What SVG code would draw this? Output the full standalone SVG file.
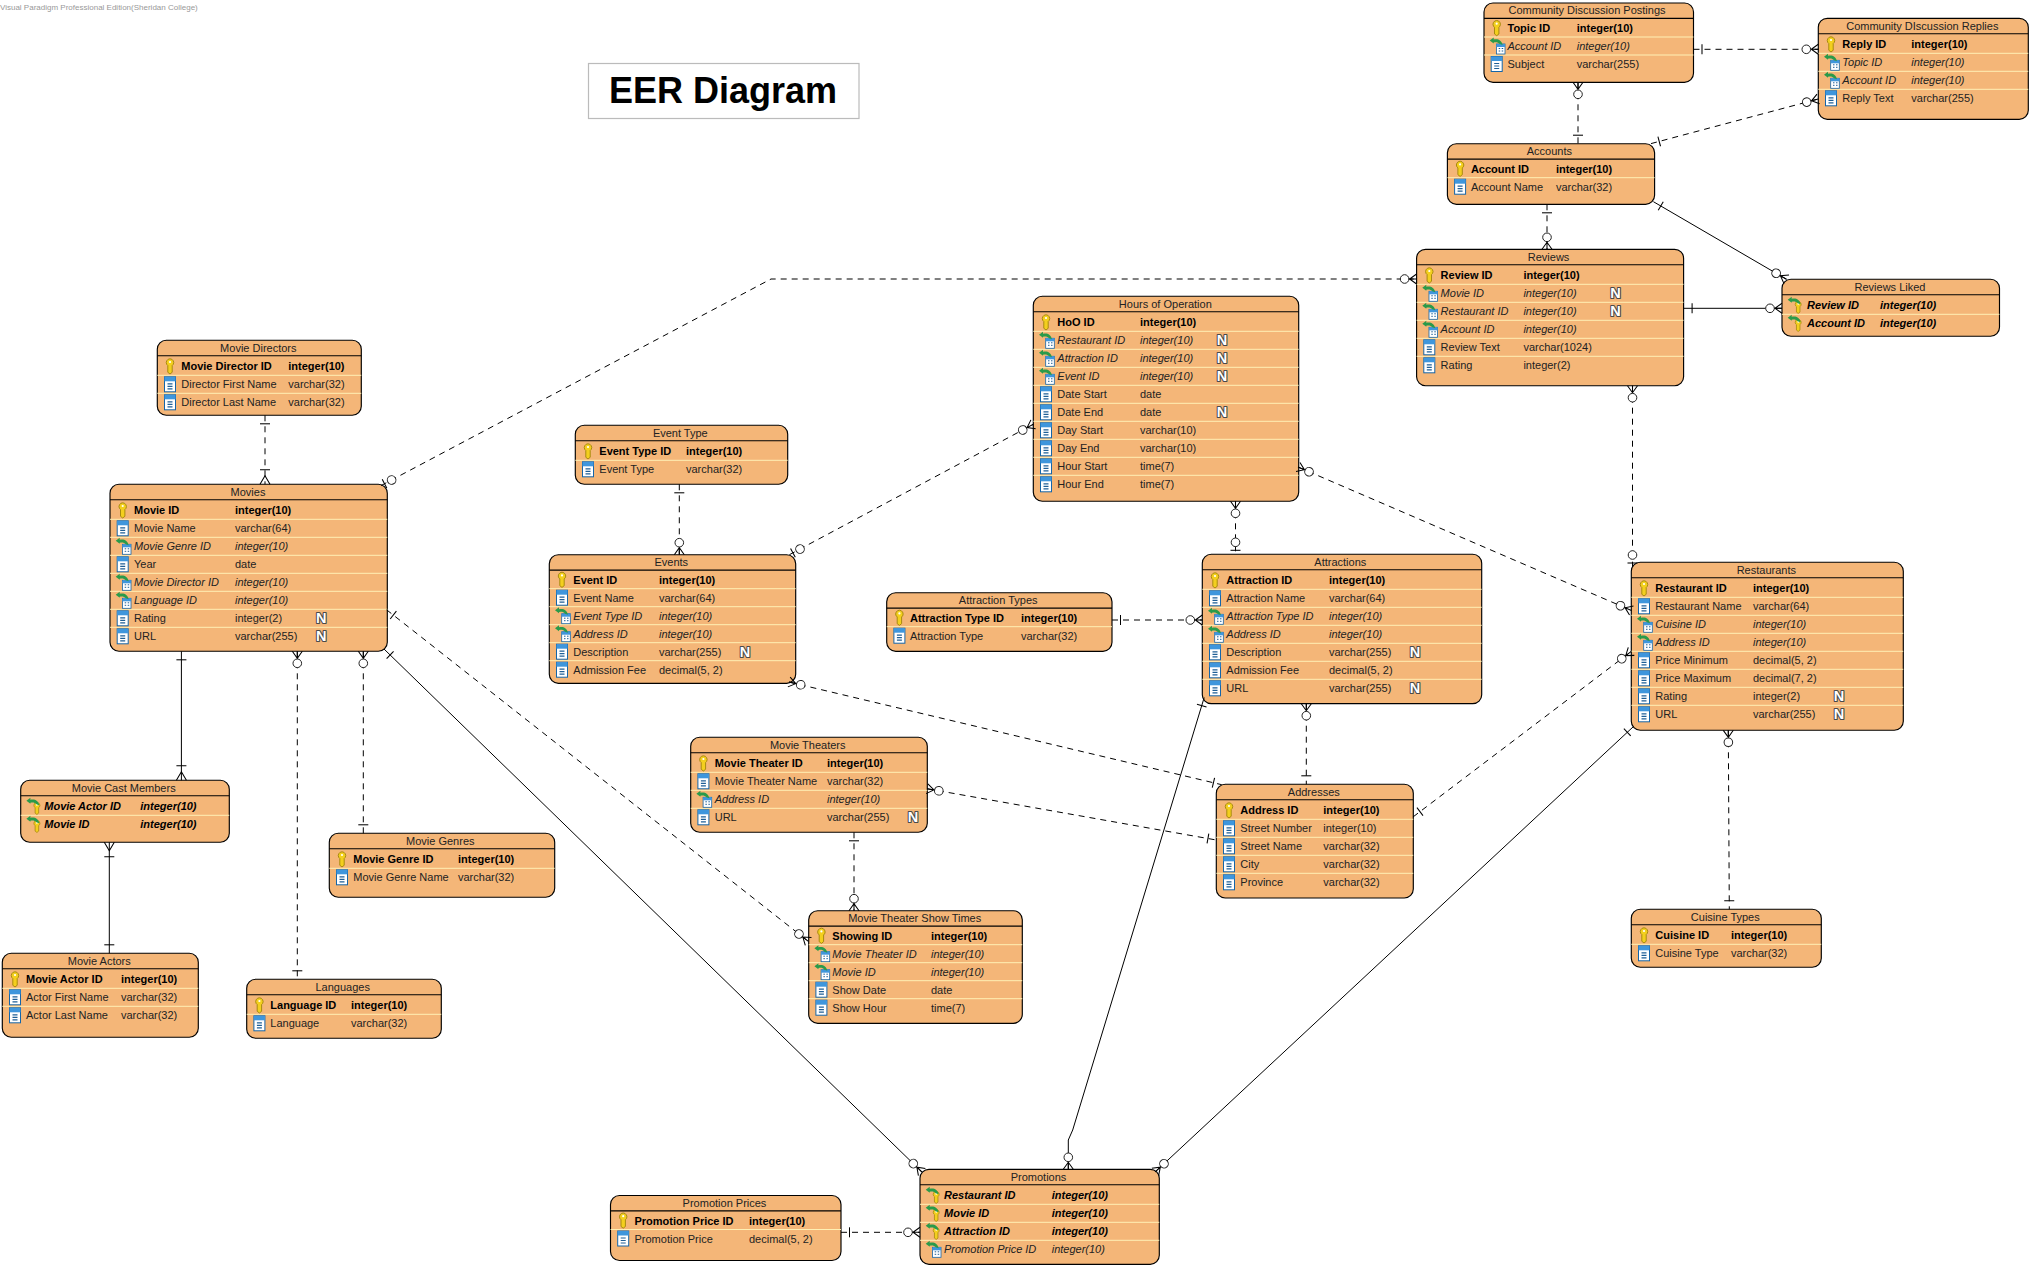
<svg xmlns="http://www.w3.org/2000/svg" width="2031" height="1268" viewBox="0 0 2031 1268">
<style>
text{font-family:"Liberation Sans",Arial,sans-serif;font-size:11px;fill:#222}
.box{fill:#f4b678;stroke:#000;stroke-width:1.15}
.hl{stroke:#000;stroke-width:1.1;fill:none}
.sep{stroke:#fff0b4;stroke-width:1;fill:none}
.ttl{text-anchor:middle}
.b{font-weight:bold;fill:#000}
.i{font-style:italic}
.bi{font-weight:bold;font-style:italic;fill:#000}
.n{font-weight:bold;font-size:14.5px;text-anchor:middle;fill:#fff;stroke:#4a4a4a;stroke-width:2.2;paint-order:stroke;stroke-linejoin:round}
.ln{fill:none;stroke:#000;stroke-width:1}
.d{stroke-dasharray:6 5}
.mk path{fill:none;stroke:#000;stroke-width:1.05}
.mk circle{fill:#fff;stroke:#222;stroke-width:1}
</style>
<defs>
<g id="col"><rect x="-5.5" y="-7.5" width="11" height="15" fill="#fff" stroke="#1565a8"/><rect x="-5.5" y="-7.5" width="11" height="4.5" fill="#3f96dc"/><path d="M-2.5 -.5H2.5M-2.5 2H2.5M-2.5 4.5H2.5" stroke="#1f5f96" stroke-width="1.2"/></g>
<g id="key"><path d="M0-7.5A3.8 3.8 0 0 1 3.2-1.8L2.2-.8V6L0 7.7-2.2 6V-.8L-3.2-1.8A3.8 3.8 0 0 1 0-7.5z" fill="#f3cf1e" stroke="#a88a10"/><circle cy="-4.3" r="1.1" fill="#fff"/></g>
<path id="arr" d="M-7-5.5-3-8.5V-6.5C1-7.5 5-6 6-1L3-2C1.5-4-1-4.2-3-3.5V-2.5z" fill="#2a9a4a"/>
<g id="fk"><g transform="translate(4,3)"><rect x="-4.3" y="-5" width="8.6" height="10" fill="#fff" stroke="#1565a8" stroke-width=".8"/><rect x="-4.3" y="-5" width="8.6" height="3" fill="#3f96dc"/><path d="M-2-.5H-.5M1-.5H2.5M-2 2H-.5M1 2H2.5" stroke="#1f5f96"/></g><use href="#arr"/></g>
<g id="pf"><g transform="translate(3.5,2) scale(.8)"><use href="#key"/></g><use href="#arr"/></g>
<marker id="m-one" class="mk" markerUnits="userSpaceOnUse" orient="auto-start-reverse" markerWidth="30" markerHeight="30" refX="0" refY="0" overflow="visible"><path d="M-8.5-5V5"/></marker>
<marker id="m-zm" class="mk" markerUnits="userSpaceOnUse" orient="auto-start-reverse" markerWidth="30" markerHeight="30" refX="0" refY="0" overflow="visible"><circle cx="-12" r="4.3"/><path d="M0-5-7 0 0 5M-7 0H0"/></marker>
<marker id="m-om" class="mk" markerUnits="userSpaceOnUse" orient="auto-start-reverse" markerWidth="30" markerHeight="30" refX="0" refY="0" overflow="visible"><path d="M0-5-8.5 0 0 5M-14.5-5V5"/></marker>
<marker id="m-z1" class="mk" markerUnits="userSpaceOnUse" orient="auto-start-reverse" markerWidth="30" markerHeight="30" refX="0" refY="0" overflow="visible"><path d="M-4-5V5"/><circle cx="-12" r="4.3"/></marker>
</defs>
<rect width="2031" height="1268" fill="#fff"/>
<text x="0" y="9.5" style="font-size:8px;fill:#999">Visual Paradigm Professional Edition(Sheridan College)</text>
<g id="title"><rect x="588.5" y="63.5" width="270.5" height="55" fill="#fff" stroke="#bbb" stroke-width="1.2"/><text x="723" y="103" style="font-size:36px;font-weight:bold;text-anchor:middle;fill:#000">EER Diagram</text></g>

<g id="postings" transform="translate(1484,3)"><rect class="box" width="209.5" height="79.3" rx="9"/><path class="hl" d="M0 15.4H209.5"/><text class="ttl" x="103" y="10.5">Community Discussion Postings</text><g transform="translate(0,-1)"><path class="sep" d="M0 35H209.5M0 53H209.5"/>
<use href="#key" x="12.7" y="26"/><text class="b" x="23.5" y="30">Topic ID</text><text class="b" x="92.7" y="30">integer(10)</text>
<use href="#fk" x="12.7" y="44"/><text class="i" x="23.5" y="48">Account ID</text><text class="i" x="92.7" y="48">integer(10)</text>
<use href="#col" x="12.7" y="62"/><text x="23.5" y="66">Subject</text><text x="92.7" y="66">varchar(255)</text></g></g>

<g id="replies" transform="translate(1818.3,18.3)"><rect class="box" width="210" height="101" rx="9"/><path class="hl" d="M0 15.4H210"/><path class="sep" d="M0 35H210M0 53H210M0 71H210"/><text class="ttl" x="104" y="11.5">Community DIscussion Replies</text>
<use href="#key" x="12.7" y="26"/><text class="b" x="24" y="30">Reply ID</text><text class="b" x="93" y="30">integer(10)</text>
<use href="#fk" x="12.7" y="44"/><text class="i" x="24" y="48">Topic ID</text><text class="i" x="93" y="48">integer(10)</text>
<use href="#fk" x="12.7" y="62"/><text class="i" x="24" y="66">Account ID</text><text class="i" x="93" y="66">integer(10)</text>
<use href="#col" x="12.7" y="80"/><text x="24" y="84">Reply Text</text><text x="93" y="84">varchar(255)</text></g>

<g id="accounts" transform="translate(1447.4,143.7)"><rect class="box" width="207.2" height="60.6" rx="9"/><path class="hl" d="M0 15.4H207.2"/><text class="ttl" x="102" y="11.5">Accounts</text><g transform="translate(0,-1)"><path class="sep" d="M0 35H207.2"/>
<use href="#key" x="12.7" y="26"/><text class="b" x="23.5" y="30">Account ID</text><text class="b" x="108.5" y="30">integer(10)</text>
<use href="#col" x="12.7" y="44"/><text x="23.5" y="48">Account Name</text><text x="108.5" y="48">varchar(32)</text></g></g>

<g id="reviews" transform="translate(1416.6,249.3)"><rect class="box" width="267" height="136.4" rx="9"/><path class="hl" d="M0 15.4H267"/><path class="sep" d="M0 35H267M0 53H267M0 71H267M0 89H267M0 107H267"/><text class="ttl" x="132" y="11.5">Reviews</text>
<use href="#key" x="12.7" y="26"/><text class="b" x="24" y="30">Review ID</text><text class="b" x="106.8" y="30">integer(10)</text>
<use href="#fk" x="12.7" y="44"/><text class="i" x="24" y="48">Movie ID</text><text class="i" x="106.8" y="48">integer(10)</text><text class="n" x="199" y="49">N</text>
<use href="#fk" x="12.7" y="62"/><text class="i" x="24" y="66">Restaurant ID</text><text class="i" x="106.8" y="66">integer(10)</text><text class="n" x="199" y="67">N</text>
<use href="#fk" x="12.7" y="80"/><text class="i" x="24" y="84">Account ID</text><text class="i" x="106.8" y="84">integer(10)</text>
<use href="#col" x="12.7" y="98"/><text x="24" y="102">Review Text</text><text x="106.8" y="102">varchar(1024)</text>
<use href="#col" x="12.7" y="116"/><text x="24" y="120">Rating</text><text x="106.8" y="120">integer(2)</text></g>

<g id="reviews-liked" transform="translate(1782,279.3)"><rect class="box" width="217.5" height="57" rx="9"/><path class="hl" d="M0 15.4H217.5"/><path class="sep" d="M0 35H217.5"/><text class="ttl" x="108" y="11.5">Reviews Liked</text>
<use href="#pf" x="12.7" y="26"/><text class="bi" x="25" y="30">Review ID</text><text class="bi" x="98" y="30">integer(10)</text>
<use href="#pf" x="12.7" y="44"/><text class="bi" x="25" y="48">Account ID</text><text class="bi" x="98" y="48">integer(10)</text></g>

<g id="hours" transform="translate(1033.3,296.3)"><rect class="box" width="265.4" height="205" rx="9"/><path class="hl" d="M0 15.4H265.4"/><path class="sep" d="M0 35H265.4M0 53H265.4M0 71H265.4M0 89H265.4M0 107H265.4M0 125H265.4M0 143H265.4M0 161H265.4M0 179H265.4"/><text class="ttl" x="132" y="11.5">Hours of Operation</text>
<use href="#key" x="12.7" y="26"/><text class="b" x="24" y="30">HoO ID</text><text class="b" x="106.7" y="30">integer(10)</text>
<use href="#fk" x="12.7" y="44"/><text class="i" x="24" y="48">Restaurant ID</text><text class="i" x="106.7" y="48">integer(10)</text><text class="n" x="188.7" y="49">N</text>
<use href="#fk" x="12.7" y="62"/><text class="i" x="24" y="66">Attraction ID</text><text class="i" x="106.7" y="66">integer(10)</text><text class="n" x="188.7" y="67">N</text>
<use href="#fk" x="12.7" y="80"/><text class="i" x="24" y="84">Event ID</text><text class="i" x="106.7" y="84">integer(10)</text><text class="n" x="188.7" y="85">N</text>
<use href="#col" x="12.7" y="98"/><text x="24" y="102">Date Start</text><text x="106.7" y="102">date</text>
<use href="#col" x="12.7" y="116"/><text x="24" y="120">Date End</text><text x="106.7" y="120">date</text><text class="n" x="188.7" y="121">N</text>
<use href="#col" x="12.7" y="134"/><text x="24" y="138">Day Start</text><text x="106.7" y="138">varchar(10)</text>
<use href="#col" x="12.7" y="152"/><text x="24" y="156">Day End</text><text x="106.7" y="156">varchar(10)</text>
<use href="#col" x="12.7" y="170"/><text x="24" y="174">Hour Start</text><text x="106.7" y="174">time(7)</text>
<use href="#col" x="12.7" y="188"/><text x="24" y="192">Hour End</text><text x="106.7" y="192">time(7)</text></g>

<g id="attractions" transform="translate(1202.3,554.3)"><rect class="box" width="279.4" height="149.4" rx="9"/><path class="hl" d="M0 15.4H279.4"/><path class="sep" d="M0 35H279.4M0 53H279.4M0 71H279.4M0 89H279.4M0 107H279.4M0 125H279.4"/><text class="ttl" x="138" y="11.5">Attractions</text>
<use href="#key" x="12.7" y="26"/><text class="b" x="24" y="30">Attraction ID</text><text class="b" x="126.7" y="30">integer(10)</text>
<use href="#col" x="12.7" y="44"/><text x="24" y="48">Attraction Name</text><text x="126.7" y="48">varchar(64)</text>
<use href="#fk" x="12.7" y="62"/><text class="i" x="24" y="66">Attraction Type ID</text><text class="i" x="126.7" y="66">integer(10)</text>
<use href="#fk" x="12.7" y="80"/><text class="i" x="24" y="84">Address ID</text><text class="i" x="126.7" y="84">integer(10)</text>
<use href="#col" x="12.7" y="98"/><text x="24" y="102">Description</text><text x="126.7" y="102">varchar(255)</text><text class="n" x="212.7" y="103">N</text>
<use href="#col" x="12.7" y="116"/><text x="24" y="120">Admission Fee</text><text x="126.7" y="120">decimal(5, 2)</text>
<use href="#col" x="12.7" y="134"/><text x="24" y="138">URL</text><text x="126.7" y="138">varchar(255)</text><text class="n" x="212.7" y="139">N</text></g>

<g id="addresses" transform="translate(1216.3,784.3)"><rect class="box" width="197" height="113.7" rx="9"/><path class="hl" d="M0 15.4H197"/><path class="sep" d="M0 35H197M0 53H197M0 71H197M0 89H197"/><text class="ttl" x="97.5" y="11.5">Addresses</text>
<use href="#key" x="12.7" y="26"/><text class="b" x="24" y="30">Address ID</text><text class="b" x="107" y="30">integer(10)</text>
<use href="#col" x="12.7" y="44"/><text x="24" y="48">Street Number</text><text x="107" y="48">integer(10)</text>
<use href="#col" x="12.7" y="62"/><text x="24" y="66">Street Name</text><text x="107" y="66">varchar(32)</text>
<use href="#col" x="12.7" y="80"/><text x="24" y="84">City</text><text x="107" y="84">varchar(32)</text>
<use href="#col" x="12.7" y="98"/><text x="24" y="102">Province</text><text x="107" y="102">varchar(32)</text></g>

<g id="restaurants" transform="translate(1631.3,562.3)"><rect class="box" width="272" height="168" rx="9"/><path class="hl" d="M0 15.4H272"/><path class="sep" d="M0 35H272M0 53H272M0 71H272M0 89H272M0 107H272M0 125H272M0 143H272"/><text class="ttl" x="135" y="11.5">Restaurants</text>
<use href="#key" x="12.7" y="26"/><text class="b" x="24" y="30">Restaurant ID</text><text class="b" x="121.7" y="30">integer(10)</text>
<use href="#col" x="12.7" y="44"/><text x="24" y="48">Restaurant Name</text><text x="121.7" y="48">varchar(64)</text>
<use href="#fk" x="12.7" y="62"/><text class="i" x="24" y="66">Cuisine ID</text><text class="i" x="121.7" y="66">integer(10)</text>
<use href="#fk" x="12.7" y="80"/><text class="i" x="24" y="84">Address ID</text><text class="i" x="121.7" y="84">integer(10)</text>
<use href="#col" x="12.7" y="98"/><text x="24" y="102">Price Minimum</text><text x="121.7" y="102">decimal(5, 2)</text>
<use href="#col" x="12.7" y="116"/><text x="24" y="120">Price Maximum</text><text x="121.7" y="120">decimal(7, 2)</text>
<use href="#col" x="12.7" y="134"/><text x="24" y="138">Rating</text><text x="121.7" y="138">integer(2)</text><text class="n" x="207.7" y="139">N</text>
<use href="#col" x="12.7" y="152"/><text x="24" y="156">URL</text><text x="121.7" y="156">varchar(255)</text><text class="n" x="207.7" y="157">N</text></g>

<g id="cuisine-types" transform="translate(1631.3,909.3)"><rect class="box" width="190" height="58" rx="9"/><path class="hl" d="M0 15.4H190"/><path class="sep" d="M0 35H190"/><text class="ttl" x="94" y="11.5">Cuisine Types</text>
<use href="#key" x="12.7" y="26"/><text class="b" x="24" y="30">Cuisine ID</text><text class="b" x="99.7" y="30">integer(10)</text>
<use href="#col" x="12.7" y="44"/><text x="24" y="48">Cuisine Type</text><text x="99.7" y="48">varchar(32)</text></g>

<g id="promotions" transform="translate(920,1169.3)"><rect class="box" width="239.3" height="95" rx="9"/><path class="hl" d="M0 15.4H239.3"/><path class="sep" d="M0 35H239.3M0 53H239.3M0 71H239.3"/><text class="ttl" x="118.5" y="11.5">Promotions</text>
<use href="#pf" x="12.7" y="26"/><text class="bi" x="24" y="30">Restaurant ID</text><text class="bi" x="131.7" y="30">integer(10)</text>
<use href="#pf" x="12.7" y="44"/><text class="bi" x="24" y="48">Movie ID</text><text class="bi" x="131.7" y="48">integer(10)</text>
<use href="#pf" x="12.7" y="62"/><text class="bi" x="24" y="66">Attraction ID</text><text class="bi" x="131.7" y="66">integer(10)</text>
<use href="#fk" x="12.7" y="80"/><text class="i" x="24" y="84">Promotion Price ID</text><text class="i" x="131.7" y="84">integer(10)</text></g>

<g id="promotion-prices" transform="translate(610.5,1195.5)"><rect class="box" width="230.5" height="65" rx="9"/><path class="hl" d="M0 15.4H230.5"/><text class="ttl" x="114" y="11.5">Promotion Prices</text><g transform="translate(0,-1)"><path class="sep" d="M0 35H230.5"/>
<use href="#key" x="12.7" y="26"/><text class="b" x="24" y="30">Promotion Price ID</text><text class="b" x="138.5" y="30">integer(10)</text>
<use href="#col" x="12.7" y="44"/><text x="24" y="48">Promotion Price</text><text x="138.5" y="48">decimal(5, 2)</text></g></g>

<g id="movie-directors" transform="translate(157.3,340.3)"><rect class="box" width="204" height="75" rx="9"/><path class="hl" d="M0 15.4H204"/><path class="sep" d="M0 35H204M0 53H204"/><text class="ttl" x="101" y="11.5">Movie Directors</text>
<use href="#key" x="12.7" y="26"/><text class="b" x="24" y="30">Movie Director ID</text><text class="b" x="131" y="30">integer(10)</text>
<use href="#col" x="12.7" y="44"/><text x="24" y="48">Director First Name</text><text x="131" y="48">varchar(32)</text>
<use href="#col" x="12.7" y="62"/><text x="24" y="66">Director Last Name</text><text x="131" y="66">varchar(32)</text></g>

<g id="movies" transform="translate(110,484.3)"><rect class="box" width="277.3" height="167" rx="9"/><path class="hl" d="M0 15.4H277.3"/><path class="sep" d="M0 35H277.3M0 53H277.3M0 71H277.3M0 89H277.3M0 107H277.3M0 125H277.3M0 143H277.3"/><text class="ttl" x="138" y="11.5">Movies</text>
<use href="#key" x="12.7" y="26"/><text class="b" x="24" y="30">Movie ID</text><text class="b" x="125" y="30">integer(10)</text>
<use href="#col" x="12.7" y="44"/><text x="24" y="48">Movie Name</text><text x="125" y="48">varchar(64)</text>
<use href="#fk" x="12.7" y="62"/><text class="i" x="24" y="66">Movie Genre ID</text><text class="i" x="125" y="66">integer(10)</text>
<use href="#col" x="12.7" y="80"/><text x="24" y="84">Year</text><text x="125" y="84">date</text>
<use href="#fk" x="12.7" y="98"/><text class="i" x="24" y="102">Movie Director ID</text><text class="i" x="125" y="102">integer(10)</text>
<use href="#fk" x="12.7" y="116"/><text class="i" x="24" y="120">Language ID</text><text class="i" x="125" y="120">integer(10)</text>
<use href="#col" x="12.7" y="134"/><text x="24" y="138">Rating</text><text x="125" y="138">integer(2)</text><text class="n" x="211.3" y="139">N</text>
<use href="#col" x="12.7" y="152"/><text x="24" y="156">URL</text><text x="125" y="156">varchar(255)</text><text class="n" x="211.3" y="157">N</text></g>

<g id="movie-cast-members" transform="translate(20.7,780.3)"><rect class="box" width="208.6" height="62" rx="9"/><path class="hl" d="M0 15.4H208.6"/><path class="sep" d="M0 35H208.6"/><text class="ttl" x="103" y="11.5">Movie Cast Members</text>
<use href="#pf" x="12.7" y="26"/><text class="bi" x="23.6" y="30">Movie Actor ID</text><text class="bi" x="119.6" y="30">integer(10)</text>
<use href="#pf" x="12.7" y="44"/><text class="bi" x="23.6" y="48">Movie ID</text><text class="bi" x="119.6" y="48">integer(10)</text></g>

<g id="movie-actors" transform="translate(2.3,953.3)"><rect class="box" width="196" height="84" rx="9"/><path class="hl" d="M0 15.4H196"/><path class="sep" d="M0 35H196M0 53H196"/><text class="ttl" x="97" y="11.5">Movie Actors</text>
<use href="#key" x="12.7" y="26"/><text class="b" x="23.7" y="30">Movie Actor ID</text><text class="b" x="118.7" y="30">integer(10)</text>
<use href="#col" x="12.7" y="44"/><text x="23.7" y="48">Actor First Name</text><text x="118.7" y="48">varchar(32)</text>
<use href="#col" x="12.7" y="62"/><text x="23.7" y="66">Actor Last Name</text><text x="118.7" y="66">varchar(32)</text></g>

<g id="languages" transform="translate(246.7,979.3)"><rect class="box" width="194.6" height="59" rx="9"/><path class="hl" d="M0 15.4H194.6"/><path class="sep" d="M0 35H194.6"/><text class="ttl" x="96" y="11.5">Languages</text>
<use href="#key" x="12.7" y="26"/><text class="b" x="23.6" y="30">Language ID</text><text class="b" x="104.3" y="30">integer(10)</text>
<use href="#col" x="12.7" y="44"/><text x="23.6" y="48">Language</text><text x="104.3" y="48">varchar(32)</text></g>

<g id="movie-genres" transform="translate(329.3,833.3)"><rect class="box" width="225.4" height="64" rx="9"/><path class="hl" d="M0 15.4H225.4"/><path class="sep" d="M0 35H225.4"/><text class="ttl" x="111" y="11.5">Movie Genres</text>
<use href="#key" x="12.7" y="26"/><text class="b" x="24" y="30">Movie Genre ID</text><text class="b" x="128.7" y="30">integer(10)</text>
<use href="#col" x="12.7" y="44"/><text x="24" y="48">Movie Genre Name</text><text x="128.7" y="48">varchar(32)</text></g>

<g id="event-type" transform="translate(575.3,425.3)"><rect class="box" width="212.4" height="59" rx="9"/><path class="hl" d="M0 15.4H212.4"/><path class="sep" d="M0 35H212.4"/><text class="ttl" x="105" y="11.5">Event Type</text>
<use href="#key" x="12.7" y="26"/><text class="b" x="24" y="30">Event Type ID</text><text class="b" x="110.7" y="30">integer(10)</text>
<use href="#col" x="12.7" y="44"/><text x="24" y="48">Event Type</text><text x="110.7" y="48">varchar(32)</text></g>

<g id="events" transform="translate(549.3,554.7)"><rect class="box" width="246.4" height="128.6" rx="9"/><path class="hl" d="M0 15.4H246.4"/><text class="ttl" x="122" y="11.5">Events</text><g transform="translate(0,-1)"><path class="sep" d="M0 35H246.4M0 53H246.4M0 71H246.4M0 89H246.4M0 107H246.4"/>
<use href="#key" x="12.7" y="26"/><text class="b" x="24" y="30">Event ID</text><text class="b" x="109.7" y="30">integer(10)</text>
<use href="#col" x="12.7" y="44"/><text x="24" y="48">Event Name</text><text x="109.7" y="48">varchar(64)</text>
<use href="#fk" x="12.7" y="62"/><text class="i" x="24" y="66">Event Type ID</text><text class="i" x="109.7" y="66">integer(10)</text>
<use href="#fk" x="12.7" y="80"/><text class="i" x="24" y="84">Address ID</text><text class="i" x="109.7" y="84">integer(10)</text>
<use href="#col" x="12.7" y="98"/><text x="24" y="102">Description</text><text x="109.7" y="102">varchar(255)</text><text class="n" x="195.7" y="103">N</text>
<use href="#col" x="12.7" y="116"/><text x="24" y="120">Admission Fee</text><text x="109.7" y="120">decimal(5, 2)</text></g></g>

<g id="attraction-types" transform="translate(886.7,592.7)"><rect class="box" width="225.3" height="58.6" rx="9"/><path class="hl" d="M0 15.4H225.3"/><text class="ttl" x="111.5" y="11.5">Attraction Types</text><g transform="translate(0,-1)"><path class="sep" d="M0 35H225.3"/>
<use href="#key" x="12.7" y="26"/><text class="b" x="23.3" y="30">Attraction Type ID</text><text class="b" x="134.3" y="30">integer(10)</text>
<use href="#col" x="12.7" y="44"/><text x="23.3" y="48">Attraction Type</text><text x="134.3" y="48">varchar(32)</text></g></g>

<g id="movie-theaters" transform="translate(690.7,737.3)"><rect class="box" width="236.6" height="95" rx="9"/><path class="hl" d="M0 15.4H236.6"/><path class="sep" d="M0 35H236.6M0 53H236.6M0 71H236.6"/><text class="ttl" x="117" y="11.5">Movie Theaters</text>
<use href="#key" x="12.7" y="26"/><text class="b" x="24" y="30">Movie Theater ID</text><text class="b" x="136.3" y="30">integer(10)</text>
<use href="#col" x="12.7" y="44"/><text x="24" y="48">Movie Theater Name</text><text x="136.3" y="48">varchar(32)</text>
<use href="#fk" x="12.7" y="62"/><text class="i" x="24" y="66">Address ID</text><text class="i" x="136.3" y="66">integer(10)</text>
<use href="#col" x="12.7" y="80"/><text x="24" y="84">URL</text><text x="136.3" y="84">varchar(255)</text><text class="n" x="222.3" y="85">N</text></g>

<g id="movie-theater-show-times" transform="translate(808.7,910.7)"><rect class="box" width="213.6" height="112.6" rx="9"/><path class="hl" d="M0 15.4H213.6"/><text class="ttl" x="106" y="11.5">Movie Theater Show Times</text><g transform="translate(0,-1)"><path class="sep" d="M0 35H213.6M0 53H213.6M0 71H213.6M0 89H213.6"/>
<use href="#key" x="12.7" y="26"/><text class="b" x="23.6" y="30">Showing ID</text><text class="b" x="122.3" y="30">integer(10)</text>
<use href="#fk" x="12.7" y="44"/><text class="i" x="23.6" y="48">Movie Theater ID</text><text class="i" x="122.3" y="48">integer(10)</text>
<use href="#fk" x="12.7" y="62"/><text class="i" x="23.6" y="66">Movie ID</text><text class="i" x="122.3" y="66">integer(10)</text>
<use href="#col" x="12.7" y="80"/><text x="23.6" y="84">Show Date</text><text x="122.3" y="84">date</text>
<use href="#col" x="12.7" y="98"/><text x="23.6" y="102">Show Hour</text><text x="122.3" y="102">time(7)</text></g></g>

<g id="connectors">
<path class="ln d" marker-start="url(#m-zm)" marker-end="url(#m-one)" d="M1578 82.3V143.7"/>
<path class="ln d" marker-start="url(#m-one)" marker-end="url(#m-zm)" d="M1693.5 49.3H1818.3"/>
<path class="ln d" marker-start="url(#m-one)" marker-end="url(#m-zm)" d="M1651 143.6L1818.3 99"/>
<path class="ln d" marker-start="url(#m-one)" marker-end="url(#m-zm)" d="M1547 204.3V249.3"/>
<path class="ln" marker-start="url(#m-one)" marker-end="url(#m-zm)" d="M1653.4 201.7L1786.5 279.3"/>
<path class="ln" marker-start="url(#m-one)" marker-end="url(#m-zm)" d="M1683.6 308.3H1782"/>
<path class="ln d" marker-start="url(#m-zm)" marker-end="url(#m-z1)" d="M1632.5 385.7V567"/>
<path class="ln d" marker-start="url(#m-zm)" marker-end="url(#m-zm)" d="M1298 467L1631.5 610.5"/>
<path class="ln d" marker-start="url(#m-zm)" marker-end="url(#m-z1)" d="M1235.5 501.3V554.3"/>
<path class="ln d" marker-start="url(#m-z1)" marker-end="url(#m-zm)" d="M381 485.6L771 279H1416.6"/>
<path class="ln d" marker-start="url(#m-one)" marker-end="url(#m-zm)" d="M679.3 484.3V554.7"/>
<path class="ln d" marker-start="url(#m-z1)" marker-end="url(#m-zm)" d="M789.4 554.7L1033.3 424.3"/>
<path class="ln d" marker-start="url(#m-zm)" marker-end="url(#m-one)" d="M789 682L1221.7 784.7"/>
<path class="ln d" marker-start="url(#m-one)" marker-end="url(#m-zm)" d="M1112 620H1202.3"/>
<path class="ln d" marker-start="url(#m-zm)" marker-end="url(#m-one)" d="M1306.3 703.7V784.3"/>
<path class="ln d" marker-start="url(#m-one)" marker-end="url(#m-zm)" d="M1413.2 816.8L1631.3 651.4"/>
<path class="ln d" marker-start="url(#m-zm)" marker-end="url(#m-one)" d="M927 788.7L1216.3 840"/>
<path class="ln d" marker-start="url(#m-one)" marker-end="url(#m-zm)" d="M854 832.3V910.7"/>
<path class="ln d" marker-start="url(#m-one)" marker-end="url(#m-zm)" d="M386.6 609.8L808.4 941.4"/>
<path class="ln" marker-start="url(#m-one)" marker-end="url(#m-zm)" d="M384 649L921.9 1172"/>
<path class="ln" marker-start="url(#m-one)" marker-end="url(#m-zm)" d="M1204.2 697.5L1072.7 1130 1068.3 1140V1169.3"/>
<path class="ln" marker-start="url(#m-one)" marker-end="url(#m-zm)" d="M1633.5 726.5L1155.2 1171.9"/>
<path class="ln d" marker-start="url(#m-zm)" marker-end="url(#m-one)" d="M1728.3 730.3L1729.3 909.3"/>
<path class="ln" marker-start="url(#m-one)" marker-end="url(#m-om)" d="M181.4 651.3V780.3"/>
<path class="ln d" marker-start="url(#m-zm)" marker-end="url(#m-one)" d="M297.3 651.3V979.3"/>
<path class="ln d" marker-start="url(#m-zm)" marker-end="url(#m-one)" d="M363.3 651.3V833.3"/>
<path class="ln d" marker-start="url(#m-one)" marker-end="url(#m-om)" d="M265 415.3V484.3"/>
<path class="ln" marker-start="url(#m-om)" marker-end="url(#m-one)" d="M109.3 842.3V953.3"/>
<path class="ln d" marker-start="url(#m-one)" marker-end="url(#m-zm)" d="M841 1232.3H920"/>
</g>
</svg>
